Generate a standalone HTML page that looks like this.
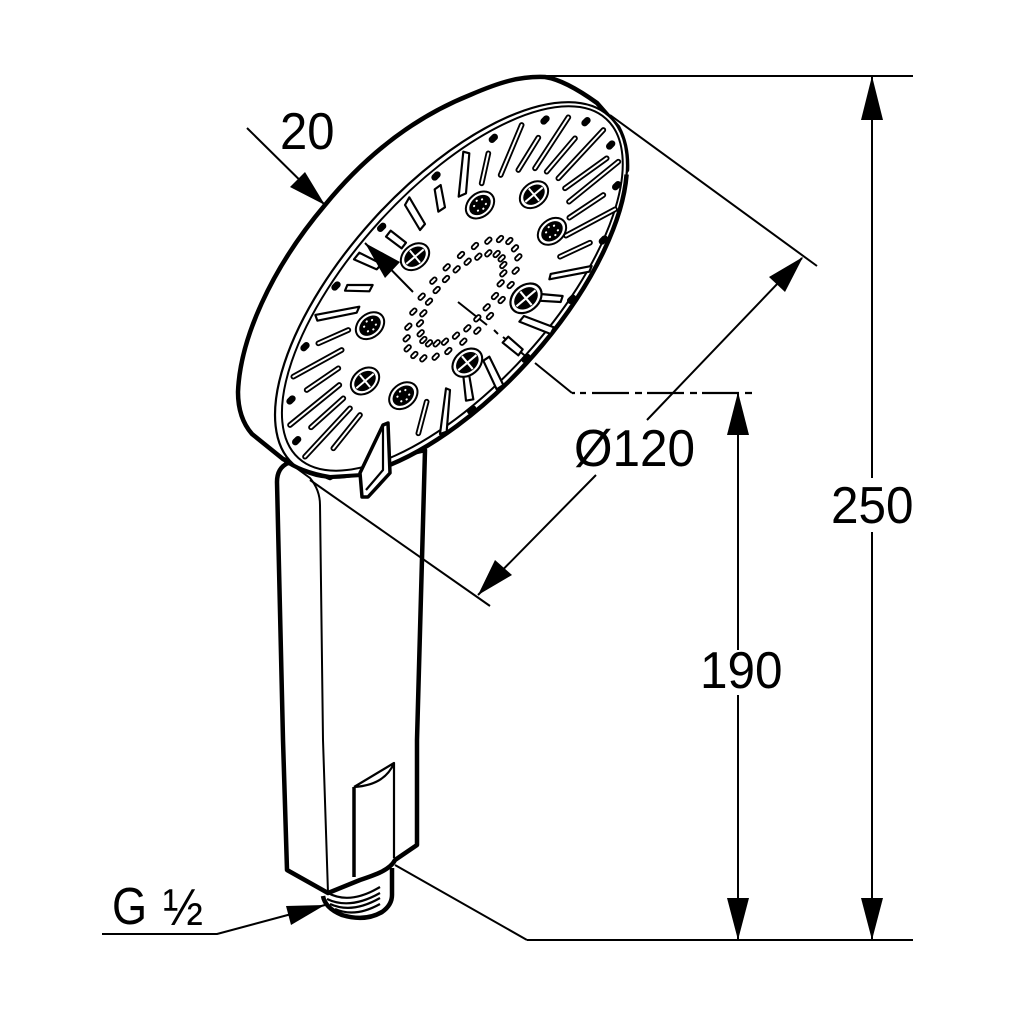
<!DOCTYPE html>
<html><head><meta charset="utf-8"><style>
html,body{margin:0;padding:0;background:#fff}
svg{display:block}
text{font-family:"Liberation Sans",sans-serif;fill:#000;font-size:49px}
</style></head><body>
<svg width="1029" height="1029" viewBox="0 0 1029 1029" xmlns="http://www.w3.org/2000/svg">
<defs>
<g id="na"><ellipse rx="47" ry="35" fill="#fff" stroke="#000" stroke-width="6"/><ellipse rx="36" ry="26" fill="#000" stroke="none"/><path fill="none" stroke="#fff" stroke-width="6" stroke-linecap="round" d="M-16 -9h1M15 -9h1M-16 9h1M15 9h1M0 -16h1M0 15h1"/></g>
<g id="nb"><ellipse rx="47" ry="35" fill="#fff" stroke="#000" stroke-width="6"/><ellipse rx="36" ry="26" fill="#000" stroke="none"/><path fill="none" stroke="#fff" stroke-width="6" d="M-34 0H34M0 -24V24"/></g>
</defs>
<g fill="none" stroke="#000" stroke-linejoin="round">
<path stroke-width="2" d="M530 76H913M527 940H913M395 865L527 940M610 115L817 266"/>
<!-- handle -->
<path fill="#fff" stroke-width="4.5" d="M425 450L417 740V845L395 860C390 870 375 875 360 880L328 893L287 870L283 740L277 482Q277 468 288 463L340 470Z"/>
<path stroke-width="2" d="M288 462L310 478Q320 490 320 505L323 740L328 893"/>
<path stroke-width="2" d="M310 480L490 606"/>
<!-- head -->
<path fill="#fff" stroke-width="4.5" d="M283 459L252 434Q238 418 238 392C240 340 270 270 325 205C370 150 420 115 470 95C500 82 520 76 545 77Q565 80 597 103L618 127Q628 145 627 170L500 340L400 440L330 478Z"/>
<g transform="rotate(-47.8 451 290)">
<ellipse cx="451" cy="290" rx="235" ry="105" fill="#fff" stroke-width="2.2"/>
<ellipse cx="453" cy="290" rx="229" ry="99" stroke-width="2"/>
</g>
<path stroke-width="4.5" d="M626.6 174.5A235 105 -47.8 0 1 380 468.7"/>
<path stroke-width="4" d="M283 459Q300 472 330 477L362 475"/>
<!-- fine centre & axis -->
<path stroke-width="2" d="M458 302L487 325M494 330L498 334M503 337L530 360M535 363L572 393"/>
<path stroke-width="2.2" d="M572 393H575M580 393H586M592 393H629M635 393H642M647 393H684M690 393H697M702 393H739M745 393H752"/>
<g transform="translate(230 70) scale(.33333)">
<!-- round slots -->
<g stroke-linecap="round">
<path stroke-width="17" d="M1015 142L915 295M925 203L865 300M1035 205L950 305M1120 180L985 325M1130 265L1005 355M1165 275L1017 395M1120 375L1018 443M1155 418L1008 497M390 1035L310 1135M360 1015L225 1160M340 985L243 1072M328 945L180 1065M325 895L230 960M335 840L190 920M355 780L265 820M875 165L812 315M775 250L755 340M590 995L565 1090M1080 518L990 560"/>
<path stroke="#fff" stroke-width="6" d="M1015 142L915 295M925 203L865 300M1035 205L950 305M1120 180L985 325M1130 265L1005 355M1165 275L1017 395M1120 375L1018 443M1155 418L1008 497M390 1035L310 1135M360 1015L225 1160M340 985L243 1072M328 945L180 1065M325 895L230 960M335 840L190 920M355 780L265 820M875 165L812 315M775 250L755 340M590 995L565 1090M1080 518L990 560"/>
</g>
<!-- rectangular slots -->
<g fill="#fff" stroke-width="6.5">
<path d="M1085 588L1078 605L958 628L962 612Z"/>
<path d="M932 672L998 678L992 696L925 692Z"/>
<path d="M882 738L972 772L962 792L868 755Z"/>
<path d="M835 800L878 838L865 856L818 818Z"/>
<path d="M778 860L820 945L800 958L760 872Z"/>
<path d="M700 918L718 918L730 988L708 992Z"/>
<path d="M648 955L660 960L650 1085L630 1092Z"/>
<path d="M428 645L418 664L345 662L352 645Z"/>
<path d="M388 548L455 582L440 598L372 568Z"/>
<path d="M482 482L528 518L515 535L468 500Z"/>
<path d="M538 382L585 462L570 480L525 405Z"/>
<path d="M632 345L645 412L625 425L614 358Z"/>
<path d="M700 245L718 250L708 370L686 380Z"/>
<path d="M388 710L380 728L262 752L256 735Z"/>
</g>
<!-- black dots -->
<g stroke-linecap="round" stroke-width="20">
<path d="M941 154l8-8M1064 159l8-8M1138 229l8-8M1156 351l8-8M1116 514l8-8M1021 692l8-8M884 869l8-8M721 1024l8-8M196 1116l8-8M179 994l8-8M221 834l8-8M314 652l8-8M451 476l8-8M614 322l8-8M786 209l8-8"/>
</g>
<!-- rose nozzles -->
<use href="#na" transform="translate(750 405) rotate(-40)"/>
<use href="#nb" transform="translate(912 374) rotate(-40)"/>
<use href="#na" transform="translate(966 484) rotate(-40)"/>
<use href="#nb" transform="translate(555 560) rotate(-40)"/>
<use href="#nb" transform="translate(888 685) rotate(-40) scale(1.1)"/>
<use href="#na" transform="translate(420 767) rotate(-40)"/>
<use href="#nb" transform="translate(405 933) rotate(-40)"/>
<use href="#na" transform="translate(520 977) rotate(-40)"/>
<use href="#nb" transform="translate(712 878) rotate(-40) scale(1.05)"/>
<!-- centre ring holes -->
<g stroke-linecap="round">
<path stroke-width="17" d="M806 511l8-8M834 517l8-8M851 539l8-8M861 566l8-8M853 606l8-8M838 649l8-8M811 694l8-8M776 742l8-8M738 786l8-8M696 819l8-8M651 847l8-8M613 864l8-8M576 869l8-8M549 859l8-8M529 839l8-8M526 809l8-8M531 774l8-8M546 729l8-8M571 684l8-8M606 636l8-8M646 596l8-8M689 559l8-8M731 532l8-8M771 516l8-8M771 554l8-8M741 564l8-8M709 579l8-8M676 602l8-8M644 631l8-8M616 664l8-8M593 699l8-8M576 734l8-8M566 764l8-8M568 794l8-8M576 814l8-8M593 824l8-8M616 824l8-8M641 819l8-8M674 801l8-8M708 779l8-8M766 716l8-8M791 682l8-8M808 644l8-8M816 614l8-8M816 589l8-8M811 569l8-8M796 556l8-8M738 749l8-8"/>
<path stroke="#fff" stroke-width="6" d="M806 511l8-8M834 517l8-8M851 539l8-8M861 566l8-8M853 606l8-8M838 649l8-8M811 694l8-8M776 742l8-8M738 786l8-8M696 819l8-8M651 847l8-8M613 864l8-8M576 869l8-8M549 859l8-8M529 839l8-8M526 809l8-8M531 774l8-8M546 729l8-8M571 684l8-8M606 636l8-8M646 596l8-8M689 559l8-8M731 532l8-8M771 516l8-8M771 554l8-8M741 564l8-8M709 579l8-8M676 602l8-8M644 631l8-8M616 664l8-8M593 699l8-8M576 734l8-8M566 764l8-8M568 794l8-8M576 814l8-8M593 824l8-8M616 824l8-8M641 819l8-8M674 801l8-8M708 779l8-8M766 716l8-8M791 682l8-8M808 644l8-8M816 614l8-8M816 589l8-8M811 569l8-8M796 556l8-8M738 749l8-8"/>
</g>
</g>
<!-- clip on head -->
<path fill="#fff" stroke-width="3.5" d="M388 423L383 425L360 473L362 497H368L390 473Z"/>
<path stroke-width="2.2" d="M383 425V470L366 490"/>
<!-- slot on handle -->
<path stroke-width="3.5" d="M354 787V877"/>
<path stroke-width="2.2" d="M354 787L394 763V858M354 787Q385 785 394 763"/>
<!-- thread -->
<path stroke-width="4.5" d="M323 896Q325 908 342 915Q365 922 382 912Q392 905 392 895V868"/>
<path stroke-width="2.2" d="M328 893Q350 905 380 887M327 899Q350 910 380 893M330 904Q352 914 380 898M335 909Q355 918 380 904"/>
<!-- dimension lines -->
<path stroke-width="2" d="M247 128L325 205M413 292L365 243M872 76V478M872 532V940M738 392V650M738 695V940M802 258L647 420M596 475L478 595M102 934H217L325 905"/>
</g>
<!-- arrowheads -->
<g fill="#000">
<path d="M325 205L290 187L305 172Z"/>
<path d="M365 243L400 262L385 278Z"/>
<path d="M872 76L861 120H883Z"/>
<path d="M872 940L861 898H883Z"/>
<path d="M738 392L727 435H749Z"/>
<path d="M738 940L727 898H749Z"/>
<path d="M803 257L785 292L769 277Z"/>
<path d="M478 595L495 560L512 575Z"/>
<path d="M325 905L286 906L291 925Z"/>
</g>
<!-- labels -->
<text transform="translate(280 149) scale(1 1.06)">20</text>
<text transform="translate(831 523) scale(1.01 1.06)">250</text>
<text transform="translate(700 688) scale(1.01 1.06)">190</text>
<text transform="translate(574 466) scale(1.01 1.06)">Ø120</text>
<text transform="translate(112 924) scale(.92 1.06)">G</text>
<text transform="translate(163 925) scale(.98 1.06)">½</text>
</svg>
</body></html>
